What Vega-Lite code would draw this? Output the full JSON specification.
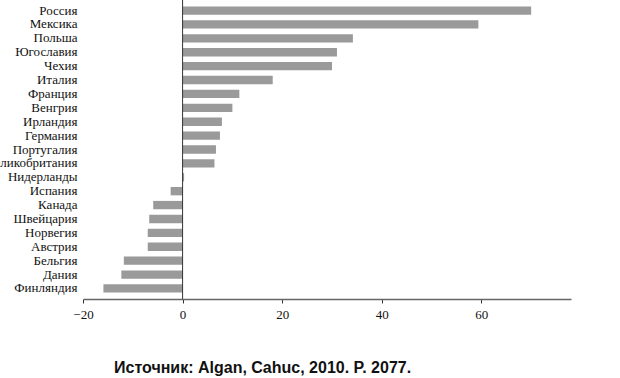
{
  "$schema": "https://vega.github.io/schema/vega-lite/v6.json",
  "autosize": "none",
  "padding": {"left": 83, "top": 0, "right": 49, "bottom": 79},
  "width": 488,
  "height": 299,
  "background": "white",
  "config": {"view": {"stroke": null}},
  "title": {
    "text": "Источник: Algan, Cahuc, 2010. P. 2077.",
    "orient": "bottom",
    "anchor": "start",
    "frame": "group",
    "dx": 31,
    "offset": 39,
    "font": "Liberation Sans",
    "fontSize": 16,
    "fontWeight": "bold",
    "color": "#111"
  },
  "data": {
    "values": [
      {"country": "Россия", "value": 70.0},
      {"country": "Мексика", "value": 59.4},
      {"country": "Польша", "value": 34.2},
      {"country": "Югославия", "value": 31.0},
      {"country": "Чехия", "value": 30.0},
      {"country": "Италия", "value": 18.1},
      {"country": "Франция", "value": 11.4},
      {"country": "Венгрия", "value": 10.0},
      {"country": "Ирландия", "value": 7.9},
      {"country": "Германия", "value": 7.5},
      {"country": "Португалия", "value": 6.7},
      {"country": "Великобритания", "value": 6.4},
      {"country": "Нидерланды", "value": 0.3},
      {"country": "Испания", "value": -2.4},
      {"country": "Канада", "value": -5.9},
      {"country": "Швейцария", "value": -6.7},
      {"country": "Норвегия", "value": -7.0},
      {"country": "Австрия", "value": -7.0},
      {"country": "Бельгия", "value": -11.8},
      {"country": "Дания", "value": -12.3},
      {"country": "Финляндия", "value": -15.9}
    ]
  },
  "layer": [
    {
      "mark": {"type": "bar", "color": "#9a9a9a"},
      "encoding": {
        "y": {
          "field": "country",
          "type": "nominal",
          "sort": null,
          "scale": {"paddingInner": 0.4, "paddingOuter": 0.46},
          "axis": {
            "title": null,
            "domain": false,
            "ticks": false,
            "labelPadding": 6,
            "labelFont": "Liberation Serif",
            "labelFontSize": 13,
            "labelColor": "#111",
            "labelLimit": 200
          }
        },
        "x": {
          "field": "value",
          "type": "quantitative",
          "scale": {"domain": [-20, 78], "nice": false, "zero": false},
          "axis": {
            "title": null,
            "values": [-20, 0, 20, 40, 60],
            "grid": false,
            "domainColor": "#666",
            "domainWidth": 1.5,
            "tickColor": "#333",
            "tickSize": 4,
            "labelPadding": 5,
            "labelFont": "Liberation Serif",
            "labelFontSize": 13,
            "labelColor": "#111",
            "labelFlush": false
          }
        }
      }
    },
    {
      "data": {"values": [{"zero": 0}]},
      "mark": {"type": "rule", "color": "#333", "strokeWidth": 1},
      "encoding": {
        "x": {"field": "zero", "type": "quantitative"}
      }
    }
  ]
}
